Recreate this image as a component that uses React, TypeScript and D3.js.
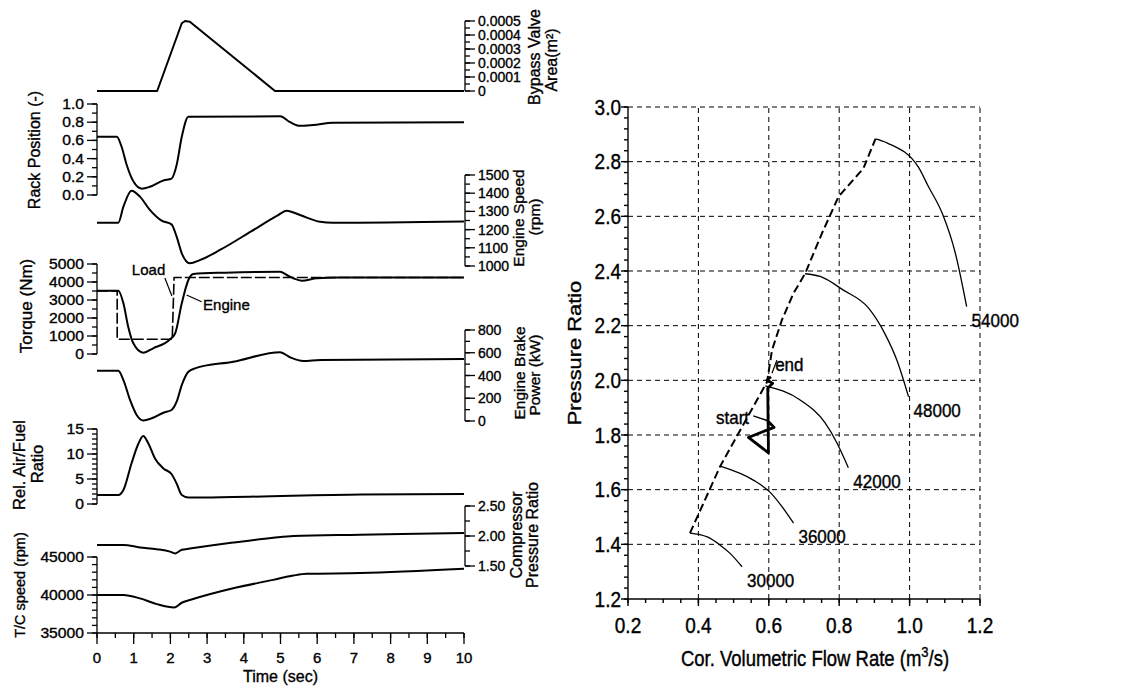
import React from 'react';
import * as d3 from 'd3';

type Pt = [number, number];

const W = 1143;
const H = 687;
const FONT = "'Liberation Sans', Arial, Helvetica, sans-serif";

// ---- left stack: transient response vs time (s) ----
const timeLabels = ['0', '1', '2', '3', '4', '5', '6', '7', '8', '9', '10'];

const bypassArea: Pt[] = [[0, 0], [1.64, 0], [2.31, 0.000484], [2.4, 0.0005], [2.53, 0.000495], [4.85, 0], [10, 0]];
const rackPosition: Pt[] = [
  [0, 0.64], [0.54, 0.64], [0.67, 0.53], [0.81, 0.33], [0.99, 0.15], [1.22, 0.07], [1.44, 0.09],
  [1.81, 0.16], [2.03, 0.18], [2.17, 0.33], [2.31, 0.64], [2.49, 0.86], [4.99, 0.865], [5.26, 0.8],
  [5.53, 0.76], [5.89, 0.77], [6.43, 0.795], [10, 0.8],
];
const engineSpeed: Pt[] = [
  [0, 1238], [0.58, 1238], [0.72, 1326], [0.94, 1414], [1.17, 1381], [1.44, 1308], [1.76, 1249],
  [2.03, 1229], [2.17, 1161], [2.31, 1070], [2.53, 1015], [2.8, 1032], [3.35, 1088], [4.2, 1190],
  [4.9, 1275], [5.17, 1304], [5.53, 1280], [6.08, 1243], [6.43, 1238], [10, 1245],
];
const engineTorque: Pt[] = [
  [0, 3517], [0.58, 3517], [0.72, 2815], [0.85, 1517], [0.99, 594], [1.26, 72], [1.53, 317],
  [1.99, 817], [2.13, 1150], [2.31, 2817], [2.49, 4111], [2.62, 4444], [3.5, 4520], [4.99, 4572],
  [5.17, 4389], [5.35, 4206], [5.58, 4072], [5.99, 4206], [6.6, 4250], [10, 4250],
];
const loadTorque: Pt[] = [[0, 3500], [0.55, 3500], [0.55, 820], [2.05, 820], [2.1, 4250], [10, 4250]];
const brakePower: Pt[] = [
  [0, 442], [0.58, 442], [0.72, 360], [0.9, 185], [1.08, 53], [1.26, 5], [1.49, 24], [1.81, 73],
  [2.03, 97], [2.17, 170], [2.31, 316], [2.49, 433], [2.67, 463], [3.71, 521], [4.99, 604],
  [5.26, 560], [5.62, 527], [6.08, 536], [10, 545],
];
const airFuel: Pt[] = [
  [0, 1.8], [0.58, 1.8], [0.72, 2.8], [0.94, 8.1], [1.13, 12.1], [1.26, 13.6], [1.4, 12.1],
  [1.58, 9.1], [1.81, 7.1], [2.03, 6.0], [2.17, 4.1], [2.31, 1.8], [2.49, 1.3], [3.7, 1.4],
  [7.2, 1.9], [10, 2.0],
];
const tcSpeed: Pt[] = [
  [0, 40000], [0.72, 40000], [1.17, 39560], [1.63, 38800], [2.1, 38350], [2.31, 38980],
  [2.53, 39340], [3.71, 40890], [4.8, 41990], [5.35, 42560], [5.71, 42790], [7.17, 42880], [10, 43450],
];
const compPR: Pt[] = [
  [0, 1.85], [0.72, 1.85], [1.17, 1.81], [1.63, 1.78], [1.99, 1.74], [2.13, 1.71], [2.31, 1.77],
  [2.53, 1.79], [3.71, 1.89], [4.8, 1.97], [5.35, 2.0], [7.17, 2.02], [10, 2.05],
];

const bypassLabels = ['0', '0.0001', '0.0002', '0.0003', '0.0004', '0.0005'];
const rackLabels = ['0.0', '0.2', '0.4', '0.6', '0.8', '1.0'];
const speedLabels = ['1000', '1100', '1200', '1300', '1400', '1500'];
const torqueLabels = ['0', '1000', '2000', '3000', '4000', '5000'];
const powerLabels = ['0', '200', '400', '600', '800'];
const afrLabels = ['0', '5', '10', '15'];
const prLabels = ['1.50', '2.00', '2.50'];
const tcLabels = ['35000', '40000', '45000'];

// ---- right: compressor map ----
const flowLabels = ['0.2', '0.4', '0.6', '0.8', '1.0', '1.2'];
const ratioLabels = ['1.2', '1.4', '1.6', '1.8', '2.0', '2.2', '2.4', '2.6', '2.8', '3.0'];

const speedLines: { name: string; pts: Pt[] }[] = [
  { name: '30000', pts: [[0.376, 1.441], [0.425, 1.427], [0.462, 1.397], [0.49, 1.367], [0.524, 1.318]] },
  { name: '36000', pts: [[0.462, 1.686], [0.556, 1.635], [0.604, 1.59], [0.638, 1.537], [0.67, 1.478]] },
  { name: '42000', pts: [[0.59, 1.98], [0.689, 1.928], [0.76, 1.844], [0.794, 1.77], [0.826, 1.68]] },
  { name: '48000', pts: [[0.703, 2.39], [0.746, 2.38], [0.812, 2.33], [0.883, 2.265], [0.93, 2.17], [0.965, 2.07], [0.997, 1.94]] },
  { name: '54000', pts: [[0.903, 2.883], [0.937, 2.868], [1.025, 2.78], [1.053, 2.71], [1.093, 2.61], [1.13, 2.465], [1.162, 2.27]] },
];
const surgeLine: Pt[] = [
  [0.376, 1.441], [0.462, 1.686], [0.595, 1.994], [0.609, 2.11], [0.637, 2.22], [0.67, 2.318],
  [0.703, 2.39], [0.751, 2.538], [0.798, 2.672], [0.869, 2.776], [0.903, 2.883],
];
const trajectory: Pt[] = [
  [0.595, 1.855], [0.615, 1.828], [0.542, 1.791], [0.599, 1.735], [0.598, 1.85], [0.597, 1.971],
  [0.611, 1.989], [0.595, 2.001], [0.606, 2.013],
];
const startNote = { text: [0.45, 1.84] as Pt, from: [0.556, 1.87] as Pt, to: [0.595, 1.853] as Pt };
const endNote = { text: [0.618, 2.034] as Pt, from: [0.623, 2.074] as Pt, to: [0.609, 2.026] as Pt };

const Txt = ({ x, y, size, anchor = 'start', rot = 0, sx = 1, sy = 1, children }: any) => (
  <text
    transform={`translate(${x},${y}) rotate(${rot}) scale(${sx},${sy})`}
    fontSize={size}
    textAnchor={anchor}
    fill="#000"
    stroke="#000"
    strokeWidth={0.35}
  >
    {children}
  </text>
);

function VAxis({ scale, x, side, labels, minor, sx = 1.12 }: any) {
  const dir = side === 'left' ? -1 : 1;
  const [r0, r1] = scale.range();
  const [d0, d1] = scale.domain();
  const minors = d3.range(d0, d1 + minor / 2, minor);
  return (
    <g stroke="#000" strokeWidth={1.3}>
      <line x1={x} x2={x} y1={r0} y2={r1} />
      {minors.map((v: number, i: number) => (
        <line key={'m' + i} x1={x} x2={x + dir * 5} y1={scale(v)} y2={scale(v)} />
      ))}
      {labels.map((s: string) => (
        <line key={'M' + s} x1={x} x2={x + dir * 10} y1={scale(+s)} y2={scale(+s)} />
      ))}
      {labels.map((s: string) => (
        <Txt key={'t' + s} x={x + dir * 13} y={scale(+s) + 5} size={14} sx={sx} anchor={side === 'left' ? 'end' : 'start'}>
          {s}
        </Txt>
      ))}
    </g>
  );
}

export default function App() {
  const tX = d3.scaleLinear().domain([0, 10]).range([97, 464]);
  const LX = 97;
  const RX = 465;
  const yBypass = d3.scaleLinear().domain([0, 0.0005]).range([91, 21]);
  const yRack = d3.scaleLinear().domain([0, 1]).range([195, 104]);
  const ySpeed = d3.scaleLinear().domain([1000, 1500]).range([266, 175]);
  const yTorque = d3.scaleLinear().domain([0, 5000]).range([354, 264]);
  const yPower = d3.scaleLinear().domain([0, 800]).range([421, 330]);
  const yAfr = d3.scaleLinear().domain([0, 15]).range([504, 429]);
  const yPr = d3.scaleLinear().domain([1.5, 2.5]).range([566, 506]);
  const yTc = d3.scaleLinear().domain([35000, 45000]).range([633, 557]);

  const smooth = (ys: any) => d3.line<Pt>().x((d) => tX(d[0])).y((d) => ys(d[1])).curve(d3.curveMonotoneX);
  const sharp = (ys: any) => d3.line<Pt>().x((d) => tX(d[0])).y((d) => ys(d[1]));

  const series: { d: string | null }[] = [
    { d: sharp(yBypass)(bypassArea) },
    { d: smooth(yRack)(rackPosition) },
    { d: smooth(ySpeed)(engineSpeed) },
    { d: smooth(yTorque)(engineTorque) },
    { d: smooth(yPower)(brakePower) },
    { d: smooth(yAfr)(airFuel) },
    { d: smooth(yTc)(tcSpeed) },
    { d: smooth(yPr)(compPR) },
  ];

  // compressor map scales
  const fX = d3.scaleLinear().domain([0.2, 1.2]).range([628, 980]);
  const pY = d3.scaleLinear().domain([1.2, 3.0]).range([599, 107]);
  const mapLine = d3.line<Pt>().x((d) => fX(d[0])).y((d) => pY(d[1]));
  const mapSmooth = d3.line<Pt>().x((d) => fX(d[0])).y((d) => pY(d[1])).curve(d3.curveMonotoneX);

  const timeMinor = d3.range(0, 10.01, 0.5);
  const flowMinor = d3.range(0.2, 1.2001, 0.05);
  const ratioMinor = d3.range(1.2, 3.0001, 0.04);

  return (
    <svg
      width={W}
      height={H}
      style={{ position: 'absolute', left: 0, top: 0, background: '#fff' }}
      fontFamily={FONT}
    >
      <rect width={W} height={H} fill="#fff" />

      {/* ---------- left stack ---------- */}
      <VAxis scale={yBypass} x={RX} side="right" labels={bypassLabels} minor={0.00005} sx={1.0} />
      <VAxis scale={yRack} x={LX} side="left" labels={rackLabels} minor={0.1} />
      <VAxis scale={ySpeed} x={RX} side="right" labels={speedLabels} minor={50} sx={1.0} />
      <VAxis scale={yTorque} x={LX} side="left" labels={torqueLabels} minor={500} />
      <VAxis scale={yPower} x={RX} side="right" labels={powerLabels} minor={100} sx={1.0} />
      <VAxis scale={yAfr} x={LX} side="left" labels={afrLabels} minor={1} />
      <VAxis scale={yPr} x={RX} side="right" labels={prLabels} minor={0.25} sx={1.0} />
      <VAxis scale={yTc} x={LX} side="left" labels={tcLabels} minor={1000} />

      {/* time axis */}
      <g stroke="#000" strokeWidth={1.3}>
        <line x1={tX(0)} x2={tX(10)} y1={633} y2={633} />
        {timeMinor.map((v, i) => (
          <line key={i} x1={tX(v)} x2={tX(v)} y1={633} y2={638} />
        ))}
        {timeLabels.map((s) => (
          <line key={s} x1={tX(+s)} x2={tX(+s)} y1={633} y2={644} />
        ))}
      </g>
      {timeLabels.map((s) => (
        <Txt key={'t' + s} x={tX(+s)} y={663} size={14} sx={1.07} anchor="middle">
          {s}
        </Txt>
      ))}
      <Txt x={(tX(0) + tX(10)) / 2} y={682} size={16} anchor="middle">
        Time (sec)
      </Txt>

      {/* transient curves */}
      <g fill="none" stroke="#000" strokeWidth={2} strokeLinejoin="round">
        {series.map((s, i) => (
          <path key={i} d={s.d || ''} />
        ))}
        <path d={sharp(yTorque)(loadTorque) || ''} strokeWidth={1.6} strokeDasharray="11,3" />
        <line x1={tX(1.85)} y1={yTorque(4220)} x2={tX(2.04)} y2={yTorque(3220)} strokeWidth={1.2} />
        <line x1={tX(2.85)} y1={yTorque(2900)} x2={tX(2.44)} y2={yTorque(3280)} strokeWidth={1.2} />
      </g>
      <Txt x={tX(0.95)} y={yTorque(4390)} size={15}>Load</Txt>
      <Txt x={tX(2.89)} y={yTorque(2440)} size={15}>Engine</Txt>

      {/* left titles */}
      <Txt x={40} y={150} rot={-90} size={16} anchor="middle">Rack Position (-)</Txt>
      <Txt x={32} y={306} rot={-90} size={17} anchor="middle">Torque (Nm)</Txt>
      <Txt x={25} y={465} rot={-90} size={16.5} anchor="middle">Rel. Air/Fuel</Txt>
      <Txt x={43} y={464} rot={-90} size={16.5} anchor="middle">Ratio</Txt>
      <Txt x={25} y={585} rot={-90} size={14.5} anchor="middle">T/C speed (rpm)</Txt>

      {/* right titles */}
      <Txt x={540} y={57} rot={-90} size={16} anchor="middle">Bypass Valve</Txt>
      <Txt x={557} y={60} rot={-90} size={16} anchor="middle">Area(m²)</Txt>
      <Txt x={524} y={218} rot={-90} size={15.5} anchor="middle">Engine Speed</Txt>
      <Txt x={540} y={217} rot={-90} size={15.5} anchor="middle">(rpm)</Txt>
      <Txt x={525} y={373} rot={-90} size={15.5} anchor="middle">Engine Brake</Txt>
      <Txt x={540} y={375} rot={-90} size={15.5} anchor="middle">Power (kW)</Txt>
      <Txt x={522} y={535} rot={-90} size={16} anchor="middle">Compressor</Txt>
      <Txt x={538} y={535} rot={-90} size={16} anchor="middle">Pressure Ratio</Txt>

      {/* ---------- compressor map ---------- */}
      <g stroke="#000" strokeWidth={1} strokeDasharray="5,4">
        {flowLabels.slice(1).map((s) => (
          <line key={'gx' + s} x1={fX(+s)} x2={fX(+s)} y1={pY(1.2)} y2={pY(3.0)} />
        ))}
        {ratioLabels.slice(1).map((s) => (
          <line key={'gy' + s} x1={fX(0.2)} x2={fX(1.2)} y1={pY(+s)} y2={pY(+s)} />
        ))}
      </g>
      <g stroke="#000" strokeWidth={1.4}>
        <line x1={fX(0.2)} x2={fX(0.2)} y1={pY(1.2)} y2={pY(3.0)} />
        <line x1={fX(0.2)} x2={fX(1.2)} y1={pY(1.2)} y2={pY(1.2)} />
        {ratioMinor.map((v, i) => (
          <line key={'rm' + i} x1={fX(0.2) - 4} x2={fX(0.2)} y1={pY(v)} y2={pY(v)} />
        ))}
        {ratioLabels.map((s) => (
          <line key={'rM' + s} x1={fX(0.2) - 7} x2={fX(0.2)} y1={pY(+s)} y2={pY(+s)} />
        ))}
        {flowMinor.map((v, i) => (
          <line key={'fm' + i} x1={fX(v)} x2={fX(v)} y1={pY(1.2)} y2={pY(1.2) + 4} />
        ))}
        {flowLabels.map((s) => (
          <line key={'fM' + s} x1={fX(+s)} x2={fX(+s)} y1={pY(1.2)} y2={pY(1.2) + 7} />
        ))}
      </g>
      {ratioLabels.map((s) => (
        <Txt key={'rt' + s} x={fX(0.2) - 7} y={pY(+s) + 7.5} size={19} sy={1.15} anchor="end">
          {s}
        </Txt>
      ))}
      {flowLabels.map((s) => (
        <Txt key={'ft' + s} x={fX(+s)} y={pY(1.2) + 34} size={19} sy={1.18} anchor="middle">
          {s}
        </Txt>
      ))}
      <Txt x={581} y={(pY(1.2) + pY(3.0)) / 2} rot={-90} size={19} sx={1.15} anchor="middle">
        Pressure Ratio
      </Txt>
      <Txt x={(fX(0.2) + fX(1.2)) / 2 + 11} y={666} size={18.5} sy={1.18} anchor="middle">
        Cor. Volumetric Flow Rate (m
        <tspan dy={-8} fontSize={13}>3</tspan>
        <tspan dy={8}>/s)</tspan>
      </Txt>

      <g fill="none" stroke="#000" strokeLinejoin="round">
        {speedLines.map((l) => (
          <path key={l.name} d={mapSmooth(l.pts) || ''} strokeWidth={1.3} />
        ))}
        <path d={mapLine(surgeLine) || ''} strokeWidth={2} strokeDasharray="8,4" />
        <path d={mapLine(trajectory) || ''} strokeWidth={2.8} />
        <line x1={fX(startNote.from[0])} y1={pY(startNote.from[1])} x2={fX(startNote.to[0])} y2={pY(startNote.to[1])} strokeWidth={1.5} />
        <line x1={fX(endNote.from[0])} y1={pY(endNote.from[1])} x2={fX(endNote.to[0])} y2={pY(endNote.to[1])} strokeWidth={1.2} />
      </g>
      {speedLines.map((l) => {
        const last = l.pts[l.pts.length - 1];
        return (
          <Txt key={'lab' + l.name} x={fX(last[0]) + 5} y={pY(last[1]) + 20} size={17} sy={1.1}>
            {l.name}
          </Txt>
        );
      })}
      <Txt x={fX(startNote.text[0])} y={pY(startNote.text[1])} size={17} sy={1.1}>start</Txt>
      <Txt x={fX(endNote.text[0])} y={pY(endNote.text[1])} size={17} sy={1.1}>end</Txt>
    </svg>
  );
}
